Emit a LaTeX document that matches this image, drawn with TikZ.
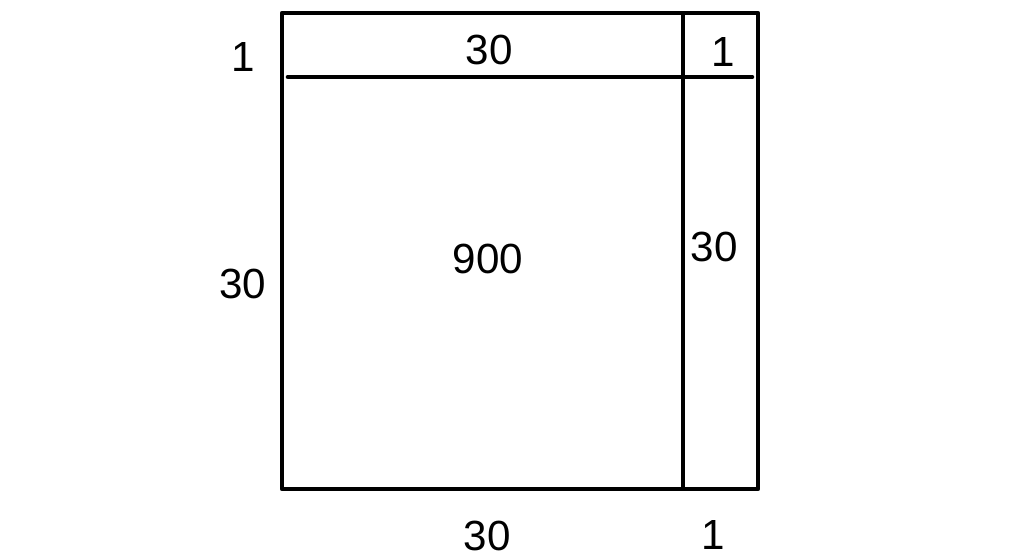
\documentclass[tikz,border=0pt]{standalone}
\usepackage{fontspec}
\setmainfont{Liberation Sans}
\begin{document}
\begin{tikzpicture}[x=0.02cm,y=-0.02cm,
	lbl/.style={inner sep=0pt,font=\fontsize{24}{28}\selectfont},
	edge/.style={line width=2.6pt}]
	\useasboundingbox (0,0) rectangle (1024,558);
	%square and strips
	\coordinate (tl) at (282,13);
	\coordinate (br) at (758,489);
	\coordinate (vtop) at (683,13);
	\coordinate (vbot) at (683,489);
	\coordinate (hl) at (288,77);
	\coordinate (hr) at (752,77);
	\draw[edge,line join=round] (tl) rectangle (br);
	\draw[edge] (vtop) -- (vbot);
	\draw[edge,line cap=round] (hl) -- (hr);

	%labels
	\node[lbl] (oneleft) at (243,57) {1};
	\node[lbl] (thirtytop) at (489,50) {30};
	\node[lbl] (onetop) at (723,52) {1};
	\node[lbl] (thirtyleft) at (243,284) {30};
	\node[lbl] (ninehundred) at (488,259) {900};
	\node[lbl] (thirtyright) at (714,247) {30};
	\node[lbl] (thirtybottom) at (487,536) {30};
	\node[lbl] (onebottom) at (713,535) {1};
\end{tikzpicture}
\end{document}
